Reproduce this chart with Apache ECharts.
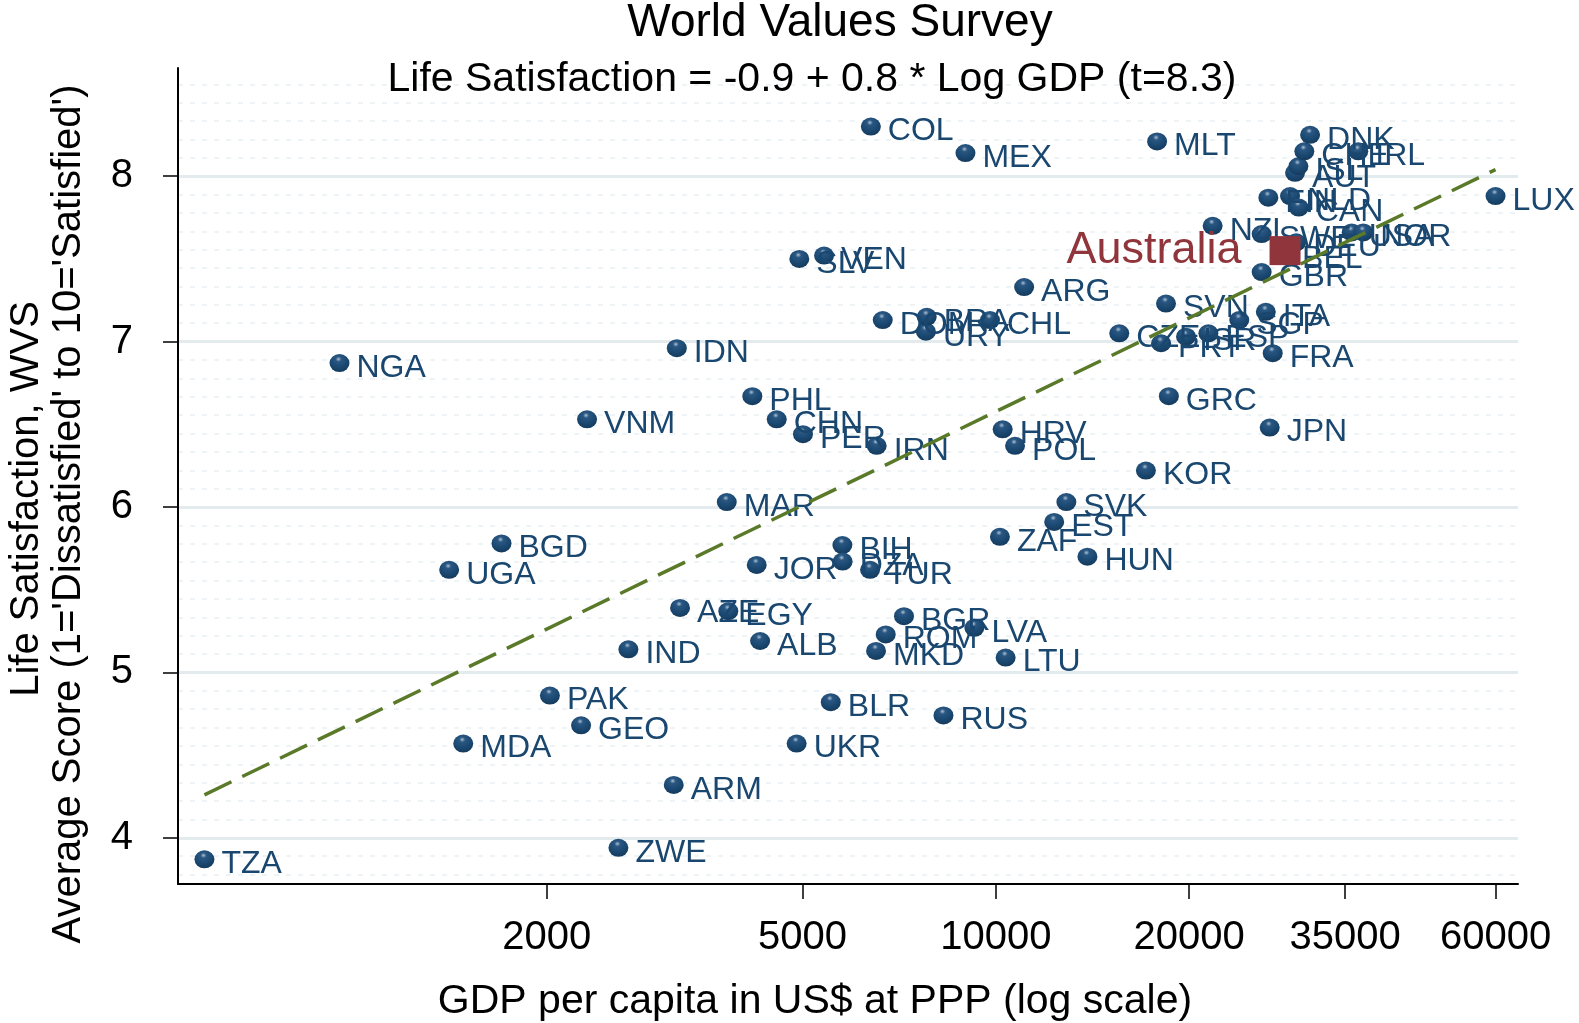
<!DOCTYPE html>
<html lang="en">
<head>
    <meta charset="UTF-8">
    <title>World Values Survey</title>
    <style>
        html, body { margin: 0; padding: 0; background: #fff; }
        #chart { width: 1579px; height: 1023px; }
    </style>
</head>
<body>
    <div id="chart"></div>
    <script src="https://cdn.jsdelivr.net/npm/echarts@6/dist/echarts.min.js"></script>
    <script>
        // countries, GDP per capita (PPP US$) and average life satisfaction
        var countries = ['TZA','NGA','UGA','MDA','BGD','PAK','GEO','VNM','ZWE','IND',
                         'ARM','IDN','AZE','MAR','EGY','PHL','JOR','ALB','CHN','UKR',
                         'SLV','PER','VEN','BLR','BIH','DZA','TUR','COL','MKD','IRN',
                         'DOM','ROM','BGR','URY','BRA','RUS','MEX','LVA','CHL','ZAF',
                         'HRV','LTU','POL','ARG','EST','SVK','HUN','CZE','KOR','MLT',
                         'PRT','SVN','GRC','ISR','ESP','NZL','SGP','SWE','GBR','ITA',
                         'FIN','JPN','FRA','BEL','NLD','AUT','DEU','ISL','CAN','CHE',
                         'DNK','USA','IRL','NOR','LUX'];
        var gdp = [586, 951, 1409, 1482, 1700, 2022, 2261, 2310, 2585, 2679,
                   3152, 3187, 3224, 3812, 3833, 4178, 4244, 4296, 4560, 4897,
                   4944, 5010, 5403, 5535, 5770, 5775, 6372, 6390, 6510, 6525,
                   6668, 6740, 7196, 7785, 7808, 8290, 8970, 9262, 9795, 10150,
                   10250, 10360, 10715, 11070, 12330, 12880, 13890, 15570, 17130, 17830,
                   18090, 18410, 18600, 19780, 21430, 21760, 23940, 25940, 25940, 26330,
                   26570, 26700, 26990, 28210, 28720, 29240, 29360, 29590, 29630, 30230,
                   30860, 35820, 36680, 37340, 60000];
        var lifeSat = [3.87, 6.87, 5.62, 4.57, 5.78, 4.86, 4.68, 6.53, 3.94, 5.14,
                       4.32, 6.96, 5.39, 6.03, 5.37, 6.67, 5.65, 5.19, 6.53, 4.57,
                       7.50, 6.44, 7.52, 4.82, 5.77, 5.67, 5.62, 8.30, 5.13, 6.37,
                       7.13, 5.23, 5.34, 7.06, 7.15, 4.74, 8.14, 5.27, 7.13, 5.82,
                       6.47, 5.09, 6.37, 7.33, 5.91, 6.03, 5.70, 7.05, 6.22, 8.21,
                       6.99, 7.23, 6.67, 7.03, 7.05, 7.70, 7.13, 7.65, 7.42, 7.18,
                       7.87, 6.48, 6.93, 7.53, 7.88, 8.02, 7.60, 8.06, 7.81, 8.15,
                       8.25, 7.66, 8.15, 7.66, 7.88];

        // highlighted country
        var highlightName = 'Australia';
        var highlightGdp = 28210;
        var highlightSat = 7.55;

        // ends of the fitted line
        var fitGdp = [586, 60000];
        var fitSat = [4.26, 8.04];

        var xTicks = [2000, 5000, 10000, 20000, 35000, 60000];
        var yTicks = [4, 5, 6, 7, 8];

        var FONT = '"Liberation Sans", Arial, Helvetica, sans-serif';
        var NAVY = '#1a476f';
        var RED = '#90353b';

        var points = [];
        for (var i = 0; i < countries.length; i++) {
            points.push({ name: countries[i], value: [gdp[i], lifeSat[i]] });
        }
        var fitLine = [];
        for (var j = 0; j < fitGdp.length; j++) {
            fitLine.push([fitGdp[j], fitSat[j]]);
        }

        var chart = echarts.init(document.getElementById('chart'), null, { renderer: 'canvas' });

        function centered(txt, x, y, size, rot) {
            return {
                type: 'text', x: x, y: y, rotation: rot || 0, z: 100,
                style: { text: txt, font: size + 'px ' + FONT, fill: '#000',
                         align: 'center', verticalAlign: 'middle',
                         textAlign: 'center', textVerticalAlign: 'middle' }
            };
        }

        var option = {
            backgroundColor: '#fff',
            animation: false,
            textStyle: { fontFamily: FONT },
            grid: { left: 178, right: 61, top: 68, bottom: 139, containLabel: false },
            graphic: [
                centered('World Values Survey', 840, 23, 46),
                centered('Life Satisfaction = -0.9 + 0.8 * Log GDP (t=8.3)', 812, 80, 41),
                centered('GDP per capita in US$ at PPP (log scale)', 815, 1002, 41),
                centered('Life Satisfaction, WVS', 27, 499, 40, Math.PI / 2),
                centered("Average Score (1='Dissatisfied' to 10='Satisfied')", 69, 514, 40, Math.PI / 2)
            ],
            xAxis: {
                type: 'log',
                logBase: 10,
                min: 533,
                max: 65030,
                axisLine: { show: true, onZero: false, lineStyle: { color: '#000', width: 2 } },
                axisTick: { show: true, length: 15, customValues: xTicks, lineStyle: { color: '#000', width: 1.5 } },
                axisLabel: {
                    customValues: xTicks, fontSize: 40, color: '#000', margin: 34, fontFamily: FONT,
                    formatter: function (v) { return String(Math.round(v)); }
                },
                splitLine: { show: false },
                minorTick: { show: false },
                minorSplitLine: { show: false }
            },
            yAxis: {
                type: 'value',
                min: 3.721,
                max: 8.654,
                axisLine: { show: true, onZero: false, lineStyle: { color: '#000', width: 2 } },
                axisTick: { show: true, length: 15, customValues: yTicks, lineStyle: { color: '#000', width: 1.5 } },
                axisLabel: { customValues: yTicks, fontSize: 40, color: '#000', margin: 45, fontFamily: FONT },
                splitLine: { show: true, lineStyle: { color: '#e3ebee', width: 3 } },
                minorTick: { show: false, splitNumber: 9 },
                minorSplitLine: { show: true, lineStyle: { color: '#eef3f5', width: 2, type: [5, 7] } }
            },
            series: [
                {
                    name: 'countries',
                    type: 'scatter',
                    data: points,
                    symbol: 'circle',
                    symbolSize: [20, 18],
                    z: 2,
                    itemStyle: {
                        opacity: 1,
                        color: {
                            type: 'radial', x: 0.45, y: 0.28, r: 0.8,
                            colorStops: [
                                { offset: 0, color: '#a9bfd3' },
                                { offset: 0.18, color: '#2a5782' },
                                { offset: 0.6, color: NAVY },
                                { offset: 1, color: '#133656' }
                            ]
                        }
                    },
                    label: {
                        show: true,
                        position: 'right',
                        distance: 7,
                        offset: [0, 5],
                        formatter: '{b}',
                        fontSize: 32,
                        color: NAVY,
                        fontFamily: FONT
                    },
                    emphasis: { disabled: true }
                },
                {
                    name: 'fit',
                    type: 'line',
                    data: fitLine,
                    symbol: 'none',
                    z: 3,
                    lineStyle: { color: '#5a7a2a', width: 3.5, type: [30, 12] },
                    emphasis: { disabled: true }
                },
                {
                    name: highlightName,
                    type: 'scatter',
                    data: [{ name: highlightName, value: [highlightGdp, highlightSat] }],
                    symbol: 'rect',
                    symbolSize: [31, 29],
                    z: 4,
                    itemStyle: { color: RED, opacity: 1 },
                    label: {
                        show: true,
                        position: 'left',
                        distance: 28,
                        formatter: '{b}',
                        fontSize: 45,
                        color: RED,
                        fontFamily: FONT
                    },
                    emphasis: { disabled: true }
                }
            ]
        };

        chart.setOption(option);
    </script>
</body>
</html>
